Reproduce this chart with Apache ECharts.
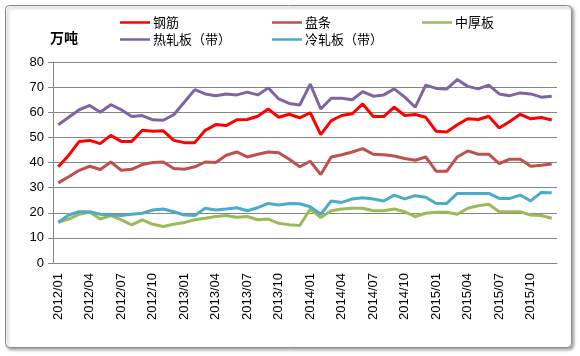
<!DOCTYPE html>
<html>
<head>
<meta charset="utf-8">
<script src="https://cdn.jsdelivr.net/npm/echarts@6/dist/echarts.min.js"></script>
<style>
html,body{margin:0;padding:0;background:#fff;}
#chart{width:580px;height:356px;}
</style>
</head>
<body>
<div id="chart"></div>
<script>
// categories: 2012/01 .. 2015/12
const years = [2012, 2013, 2014, 2015];
const months = ['01','02','03','04','05','06','07','08','09','10','11','12'];
const categories = [];
years.forEach(y => months.forEach(m => categories.push(y + '/' + m)));

const seriesNames = ['钢筋', '盘条', '中厚板', '热轧板（带）', '冷轧板（带）'];

const rebar = [38.3, 42.9, 48.4, 48.8, 47.5, 50.8, 48.4, 48.4, 52.8, 52.4, 52.6, 48.8,
  47.9, 47.9, 52.8, 55.1, 54.7, 57.0, 57.1, 58.4, 61.3, 58.0, 59.2, 57.8,
  59.8, 51.1, 56.7, 58.7, 59.4, 63.3, 58.3, 58.3, 62.0, 58.7, 59.1, 58.0,
  52.4, 52.1, 55.0, 57.4, 57.1, 58.4, 53.7, 56.3, 59.2, 57.4, 57.9, 56.9];

const wireRod = [31.9, 34.3, 36.9, 38.5, 37.2, 40.2, 36.9, 37.3, 39.2, 40.0, 40.2, 37.6,
  37.3, 38.3, 40.2, 40.0, 42.9, 44.2, 42.2, 43.3, 44.2, 43.9, 41.3, 38.3,
  40.5, 35.2, 42.2, 43.1, 44.2, 45.5, 43.3, 43.1, 42.6, 41.6, 40.9, 42.2,
  36.5, 36.5, 42.2, 44.6, 43.3, 43.3, 39.6, 41.3, 41.3, 38.5, 38.9, 39.4];

const plate = [16.2, 17.5, 19.4, 20.2, 17.5, 18.9, 17.2, 15.2, 17.2, 15.4, 14.5, 15.4,
  16.1, 17.2, 17.8, 18.5, 18.9, 18.2, 18.5, 17.2, 17.5, 15.8, 15.2, 14.9,
  21.5, 18.1, 20.8, 21.5, 21.8, 21.8, 20.8, 20.8, 21.5, 20.4, 18.5, 19.8,
  20.2, 20.2, 19.4, 21.8, 22.8, 23.4, 20.4, 20.4, 20.4, 19.1, 18.9, 17.8];

const hotRolled = [55.0, 58.0, 61.0, 62.7, 60.0, 63.0, 61.0, 58.3, 58.7, 57.0, 56.8, 59.0,
  64.0, 69.0, 67.3, 66.6, 67.3, 66.9, 68.0, 66.9, 69.7, 65.3, 63.5, 62.9,
  71.2, 61.3, 65.6, 65.6, 65.0, 68.2, 66.4, 66.9, 69.3, 66.0, 62.0, 70.8,
  69.5, 69.3, 73.0, 70.3, 69.3, 70.8, 67.3, 66.6, 67.7, 67.3, 66.0, 66.4];

const coldRolled = [16.2, 19.1, 20.4, 20.4, 19.4, 19.1, 18.9, 19.4, 19.8, 21.1, 21.5, 20.4,
  19.1, 18.9, 21.8, 21.1, 21.5, 22.0, 20.8, 22.0, 23.7, 23.1, 23.7, 23.6,
  22.4, 19.4, 24.7, 24.1, 25.5, 26.0, 25.5, 24.7, 27.0, 25.5, 26.8, 26.2,
  23.7, 23.7, 27.7, 27.7, 27.7, 27.7, 25.7, 25.7, 27.0, 24.7, 28.1, 28.0];

const yTicks = [0, 10, 20, 30, 40, 50, 60, 70, 80];

const colors = ['#ff0000', '#c0504d', '#9bbb59', '#8064a2', '#4bacc6'];
const dataArr = [rebar, wireRod, plate, hotRolled, coldRolled];

const cjk = '"Noto Sans CJK SC", "Liberation Sans", sans-serif';
const legendPos = [[120, 16], [272, 16], [422, 16], [120, 33], [272, 33]];

const chart = echarts.init(document.getElementById('chart'));
chart.setOption({
  animation: false,
  backgroundColor: '#fff',
  color: colors,
  graphic: [
    {
      type: 'rect', z: -1,
      shape: { x: 5.5, y: 5.5, width: 566, height: 342, r: 4 },
      style: { fill: '#fff', stroke: '#8a8a8a', lineWidth: 1,
        shadowBlur: 3, shadowOffsetX: 2, shadowOffsetY: 2, shadowColor: 'rgba(0,0,0,0.35)' }
    },
    {
      type: 'text', left: 50, top: 31,
      style: { text: '万吨', fontSize: 14, fontWeight: 'bold', fill: '#000', fontFamily: cjk }
    }
  ],
  legend: seriesNames.map((n, i) => ({
    data: [n],
    left: legendPos[i][0], top: legendPos[i][1],
    padding: 0,
    icon: 'rect', itemWidth: 30, itemHeight: 2.5, itemGap: 4,
    textStyle: { fontSize: 13, color: '#000', fontFamily: cjk, padding: [0, 0, 0, -2] }
  })),
  grid: { left: 53, right: 23, top: 62, bottom: 93, containLabel: false },
  xAxis: {
    type: 'category',
    data: categories,
    boundaryGap: true,
    axisLine: { lineStyle: { color: '#868686', width: 1 } },
    axisTick: { interval: 2, length: 5, lineStyle: { color: '#868686' } },
    axisLabel: { interval: 2, rotate: 90, fontSize: 13, color: '#000', margin: 10,
      fontFamily: '"Liberation Sans", sans-serif' },
    splitLine: { show: false }
  },
  yAxis: {
    type: 'value', min: 0, max: 80, interval: 10,
    axisLine: { show: true, lineStyle: { color: '#868686' } },
    axisTick: { show: true, length: 5, lineStyle: { color: '#868686' } },
    axisLabel: { fontSize: 13, color: '#000', margin: 9,
      fontFamily: '"Liberation Sans", sans-serif',
      formatter: v => yTicks.includes(v) ? String(v) : '' },
    splitLine: { lineStyle: { color: '#868686', width: 1 } }
  },
  series: seriesNames.map((n, i) => ({
    name: n, type: 'line', data: dataArr[i],
    symbol: 'none', smooth: false,
    lineStyle: { width: 3, color: colors[i] },
    itemStyle: { color: colors[i] }
  }))
});
</script>
</body>
</html>
